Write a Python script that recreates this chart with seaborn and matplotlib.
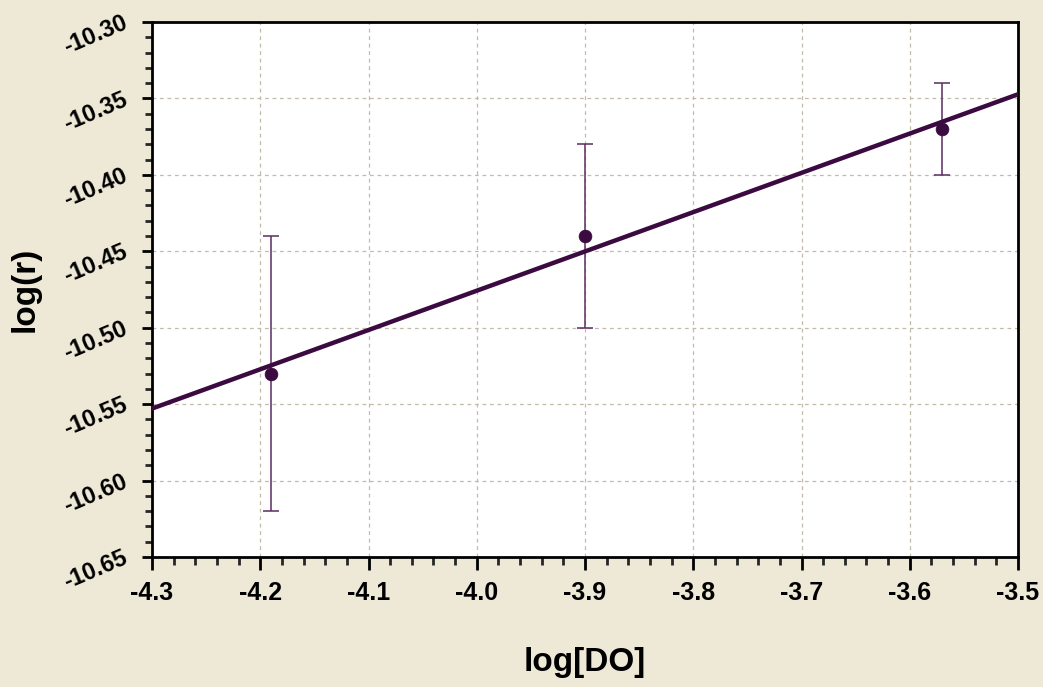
import numpy as np
import pandas as pd
import matplotlib
matplotlib.use("Agg")
import matplotlib.pyplot as plt
from matplotlib.ticker import MultipleLocator, FormatStrFormatter
import seaborn as sns

# Measured rates against dissolved oxygen (log-log)
log_do = [-4.19, -3.90, -3.57]
log_r = [-10.53, -10.44, -10.37]
log_r_err = [0.09, 0.06, 0.03]

x_ticks = [-4.3, -4.2, -4.1, -4.0, -3.9, -3.8, -3.7, -3.6, -3.5]
y_ticks = [-10.65, -10.60, -10.55, -10.50, -10.45, -10.40, -10.35, -10.30]

df = pd.DataFrame({"log[DO]": log_do, "log(r)": log_r, "err": log_r_err})

sns.set_style("ticks")
plt.rcParams["font.family"] = ["Liberation Sans", "DejaVu Sans"]
plt.rcParams["text.color"] = "black"
plt.rcParams["axes.labelcolor"] = "black"

bg = "#eee9d6"
dark = "#3b0a40"
bar_c = "#5b2c62"

fig = plt.figure(figsize=(10.43, 6.87), dpi=100, facecolor=bg)
ax = fig.add_axes([152 / 1043, 1 - 557 / 687, (1018 - 152) / 1043, (557 - 22) / 687])
ax.set_facecolor("white")

ax.set_xlim(-4.3, -3.5)
ax.set_ylim(-10.65, -10.30)

# Least-squares trend line across the full x range
sns.regplot(data=df, x="log[DO]", y="log(r)", ax=ax, scatter=False, ci=None,
            truncate=False, line_kws=dict(color=dark, lw=3.2, zorder=4))

ax.errorbar(df["log[DO]"], df["log(r)"], yerr=df["err"], fmt="none",
            ecolor=bar_c, elinewidth=1.1, capsize=6, capthick=1.1, zorder=3)
sns.scatterplot(data=df, x="log[DO]", y="log(r)", ax=ax, color=dark, s=85,
                edgecolor=dark, linewidth=0.5, zorder=5)

ax.set_xticks(x_ticks)
ax.set_yticks(y_ticks)
ax.xaxis.set_major_formatter(FormatStrFormatter("%.1f"))
ax.yaxis.set_major_formatter(FormatStrFormatter("%.2f"))
ax.xaxis.set_minor_locator(MultipleLocator(0.02))
ax.yaxis.set_minor_locator(MultipleLocator(0.01))

ax.grid(True, which="major", linestyle=(0, (3, 3)), color="#c2bba8", lw=0.9)
ax.set_axisbelow(True)

for s in ax.spines.values():
    s.set_color("black")
    s.set_linewidth(2.0)

ax.tick_params(axis="x", which="major", length=9.5, width=2, direction="out",
               pad=8, labelsize=18, colors="black")
ax.tick_params(axis="x", which="minor", length=6, width=2, direction="out")
ax.tick_params(axis="y", which="major", length=7.5, width=2, direction="out",
               pad=11, labelsize=17, colors="black")
ax.tick_params(axis="y", which="minor", length=5, width=2, direction="out")

for lab in ax.get_xticklabels():
    lab.set_fontweight("bold")
for lab in ax.get_yticklabels():
    lab.set_fontweight("bold")
    lab.set_rotation(23)
    lab.set_rotation_mode("anchor")
    lab.set_ha("right")
    lab.set_va("center")

ax.set_xlabel("log[DO]", fontsize=24, fontweight="bold", labelpad=30)
ax.set_ylabel("log(r)", fontsize=24, fontweight="bold", labelpad=14)

fig.savefig("out.png", dpi=100, facecolor=bg)
